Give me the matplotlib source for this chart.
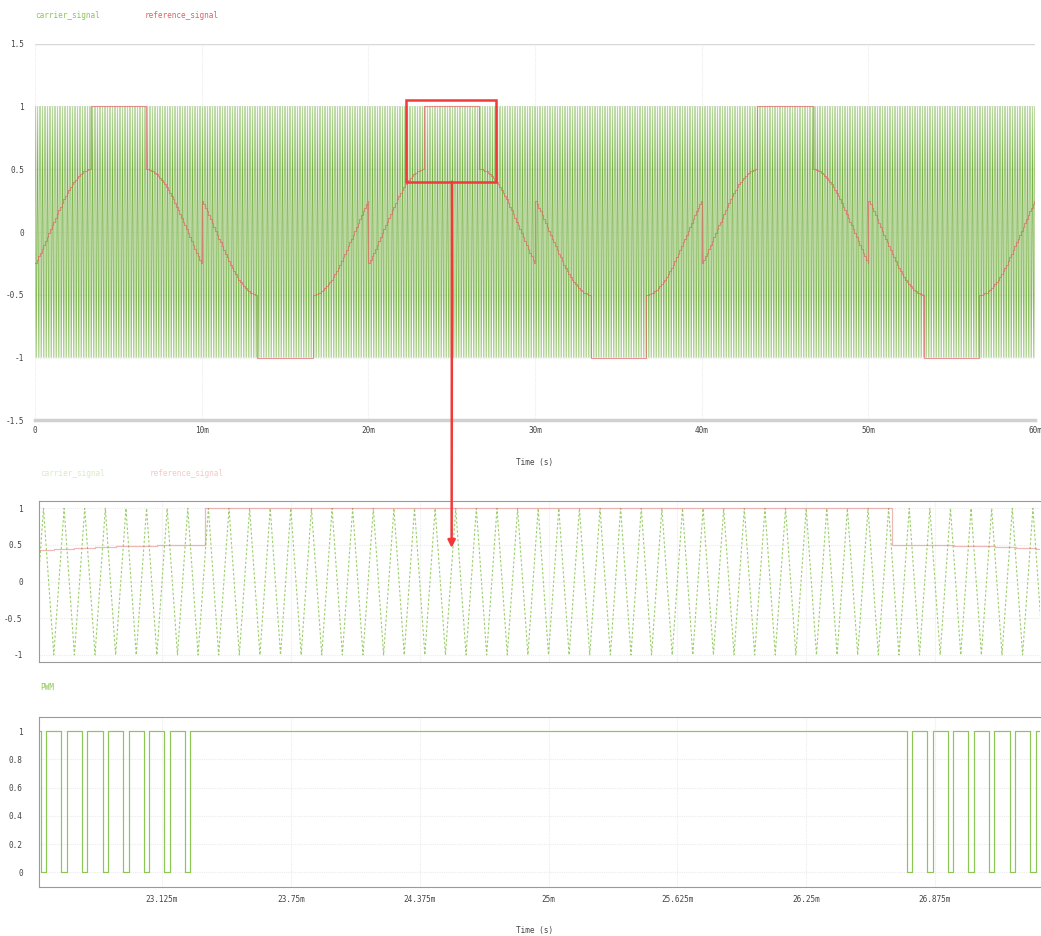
import matplotlib

matplotlib.use("Agg")
import matplotlib.pyplot as plt
import numpy as np
from matplotlib.patches import Rectangle, ConnectionPatch

W, H = 1041, 936

# carrier: triangle, -1 at every 0.1 ms, +1 half way between
CARRIER_HALF_PERIOD_MS = 0.05
CARRIER_LEVELS = [-1.0, 1.0]
T_END_MS = 60.0

# reference signal, one rising arc read at 0.1 ms steps (-0.25 -> 0.5)
REF_STEP_MS = 0.1
RISE_ARC = [-0.25, -0.222, -0.194, -0.164, -0.134, -0.104, -0.073, -0.042,
            -0.010, 0.021, 0.052, 0.083, 0.114, 0.145, 0.174, 0.203, 0.232,
            0.259, 0.285, 0.311, 0.335, 0.357, 0.379, 0.398, 0.417, 0.433,
            0.448, 0.461, 0.472, 0.482, 0.489, 0.495, 0.498, 0.500]
# segments of one 20 ms cycle: (start ms, kind)
SEGMENTS = [(0.0, "rise"), (3.333, "high"), (6.667, "fall"),
            (10.0, "fall_neg"), (13.333, "low"), (16.667, "rise_neg")]
CYCLE_STARTS = [0.0, 20.0, 40.0]

# PWM low pulses seen in the zoomed window (ms)
PWM_LOW_START = [22.536, 22.636, 22.737, 22.837, 22.937, 23.037, 23.137, 23.237,
                 26.737, 26.837, 26.937, 27.037, 27.137, 27.237, 27.336]
PWM_LOW_END = [22.564, 22.664, 22.763, 22.863, 22.963, 23.063, 23.163, 23.263,
               26.763, 26.863, 26.963, 27.063, 27.163, 27.263, 27.364]

TOP_XTICKS = [0, 10, 20, 30, 40, 50, 60]
TOP_XLABELS = ["0", "10m", "20m", "30m", "40m", "50m", "60m"]
TOP_YTICKS = [-1.5, -1, -0.5, 0, 0.5, 1, 1.5]
TOP_YLABELS = ["-1.5", "-1", "-0.5", "0", "0.5", "1", "1.5"]
ZOOM_XLIM = (22.5297, 27.3844)
ZOOM_XTICKS = [23.125, 23.75, 24.375, 25.0, 25.625, 26.25, 26.875]
ZOOM_XLABELS = ["23.125m", "23.75m", "24.375m", "25m", "25.625m", "26.25m", "26.875m"]
MID_YTICKS = [-1, -0.5, 0, 0.5, 1]
MID_YLABELS = ["-1", "-0.5", "0", "0.5", "1"]
PWM_YTICKS = [0, 0.2, 0.4, 0.6, 0.8, 1]
PWM_YLABELS = ["0", "0.2", "0.4", "0.6", "0.8", "1"]

ZOOM_BOX = (22.26, 0.40, 5.40, 0.65)   # x, y, w, h in top-panel data
ARROW_X_TOP = 25.02
ARROW_X_MID = 24.53
ARROW_Y_MID = 0.46

GREEN = "#5fa424"
GREEN_LIGHT = "#8cc653"
RED = "#e06262"
TXT = "#444444"
MONO = "DejaVu Sans Mono"
FS = 5.6


def build_reference():
    arc = np.array(RISE_ARC)
    ts, vs = [], []
    for c0 in CYCLE_STARTS:
        for s0, kind in SEGMENTS:
            t0 = c0 + s0
            if kind in ("high", "low"):
                ts.append(t0)
                vs.append(1.0 if kind == "high" else -1.0)
                continue
            vals = {"rise": arc, "fall": arc[::-1], "fall_neg": -arc,
                    "rise_neg": -arc[::-1]}[kind]
            ts.extend(t0 + REF_STEP_MS * np.arange(len(vals)))
            vs.extend(vals)
    ts.append(T_END_MS)
    vs.append(vs[-1])
    return np.array(ts), np.array(vs)


def build_carrier():
    t = np.arange(0, T_END_MS + 1e-9, CARRIER_HALF_PERIOD_MS)
    v = np.resize(CARRIER_LEVELS, len(t))
    return t, v


def build_pwm():
    t, v = [ZOOM_XLIM[0]], [1.0]
    for s, e in zip(PWM_LOW_START, PWM_LOW_END):
        t += [s, s, e, e]
        v += [1.0, 0.0, 0.0, 1.0]
    t.append(ZOOM_XLIM[1])
    v.append(1.0)
    return np.array(t), np.array(v)


def fig_axes(fig, left, top, right, bottom):
    return fig.add_axes([left / W, 1 - bottom / H, (right - left) / W, (bottom - top) / H])


def style(ax, xt, xl, yt, yl, xpad, ypad):
    ax.set_xticks(xt)
    ax.set_xticklabels(xl)
    ax.set_yticks(yt)
    ax.set_yticklabels(yl)
    ax.tick_params(length=0, labelsize=FS, labelcolor=TXT, pad=xpad, axis="x")
    ax.tick_params(length=0, labelsize=FS, labelcolor=TXT, pad=ypad, axis="y")
    for lab in ax.get_xticklabels() + ax.get_yticklabels():
        lab.set_family(MONO)
    ax.grid(True, color="#ececec", lw=0.8, ls=(0, (1, 1)))
    ax.set_axisbelow(True)


def main():
    ct, cv = build_carrier()
    rt, rv = build_reference()
    pt, pv = build_pwm()

    fig = plt.figure(figsize=(W / 100, H / 100), dpi=100)

    # top: whole run
    ax1 = fig_axes(fig, 35, 43.6, 1035, 420.4)
    ax1.plot(ct, cv, color=GREEN, lw=0.3)
    ax1.plot(rt, rv, color=RED, lw=0.8, alpha=0.65, drawstyle="steps-post")
    ax1.set_xlim(0, 60)
    ax1.set_ylim(-1.5, 1.5)
    style(ax1, TOP_XTICKS, TOP_XLABELS, TOP_YTICKS, TOP_YLABELS, 4, 8)
    for sp in ["left", "right", "top"]:
        ax1.spines[sp].set_visible(False)
    ax1.spines["bottom"].set_color("#d0d0d0")
    ax1.spines["bottom"].set_linewidth(2.5)
    ax1.axhline(1.5, color="#d8d8d8", lw=1)
    bx, by, bw, bh = ZOOM_BOX
    ax1.add_patch(Rectangle((bx, by), bw, bh, fill=False, ec="#f03a3a", lw=1.8,
                            clip_on=False, zorder=5))
    fig.text(35 / W, 1 - 15 / H, "carrier_signal", color=GREEN_LIGHT, fontsize=FS,
             family=MONO, va="center")
    fig.text(145 / W, 1 - 15 / H, "reference_signal", color=RED, fontsize=FS,
             family=MONO, va="center")
    fig.text(535 / W, 1 - 463 / H, "Time (s)", color=TXT, fontsize=FS,
             family=MONO, ha="center", va="center")

    # middle: zoomed carrier / reference
    ax2 = fig_axes(fig, 39.3, 501, 1040, 662.3)
    ax2.plot(ct, cv, color=GREEN_LIGHT, lw=0.8, dashes=(2.2, 1.8), alpha=0.85)
    ax2.plot(rt, rv, color=RED, lw=0.9, alpha=0.45, drawstyle="steps-post")
    ax2.set_xlim(*ZOOM_XLIM)
    ax2.set_ylim(-1.1, 1.1)
    style(ax2, ZOOM_XTICKS, [""] * len(ZOOM_XTICKS), MID_YTICKS, MID_YLABELS, 4, 12)
    for sp in ["left", "top", "bottom"]:
        ax2.spines[sp].set_color("#9a9a9a")
    ax2.spines["right"].set_visible(False)
    fig.text(40 / W, 1 - 474 / H, "carrier_signal", color=GREEN_LIGHT, fontsize=FS,
             family=MONO, va="center", alpha=0.35)
    fig.text(150 / W, 1 - 474 / H, "reference_signal", color=RED, fontsize=FS,
             family=MONO, va="center", alpha=0.35)

    # bottom: PWM output
    ax3 = fig_axes(fig, 39.3, 717, 1040, 886.6)
    ax3.plot(pt, pv, color=GREEN_LIGHT, lw=0.85)
    ax3.set_xlim(*ZOOM_XLIM)
    ax3.set_ylim(-0.1, 1.1)
    style(ax3, ZOOM_XTICKS, ZOOM_XLABELS, PWM_YTICKS, PWM_YLABELS, 6, 12)
    for sp in ["left", "top", "bottom"]:
        ax3.spines[sp].set_color("#9a9a9a")
    ax3.spines["right"].set_visible(False)
    fig.text(40 / W, 1 - 687 / H, "PWM", color=GREEN_LIGHT, fontsize=FS,
             family=MONO, va="center")
    fig.text(535 / W, 1 - 931 / H, "Time (s)", color=TXT, fontsize=FS,
             family=MONO, ha="center", va="center")

    arrow = ConnectionPatch(xyA=(ARROW_X_TOP, by), coordsA=ax1.transData,
                            xyB=(ARROW_X_MID, ARROW_Y_MID), coordsB=ax2.transData,
                            arrowstyle="-|>", color="#f03a3a", lw=1.8,
                            mutation_scale=11, zorder=6)
    fig.add_artist(arrow)

    fig.savefig("out.png", dpi=100)


if __name__ == "__main__":
    main()
